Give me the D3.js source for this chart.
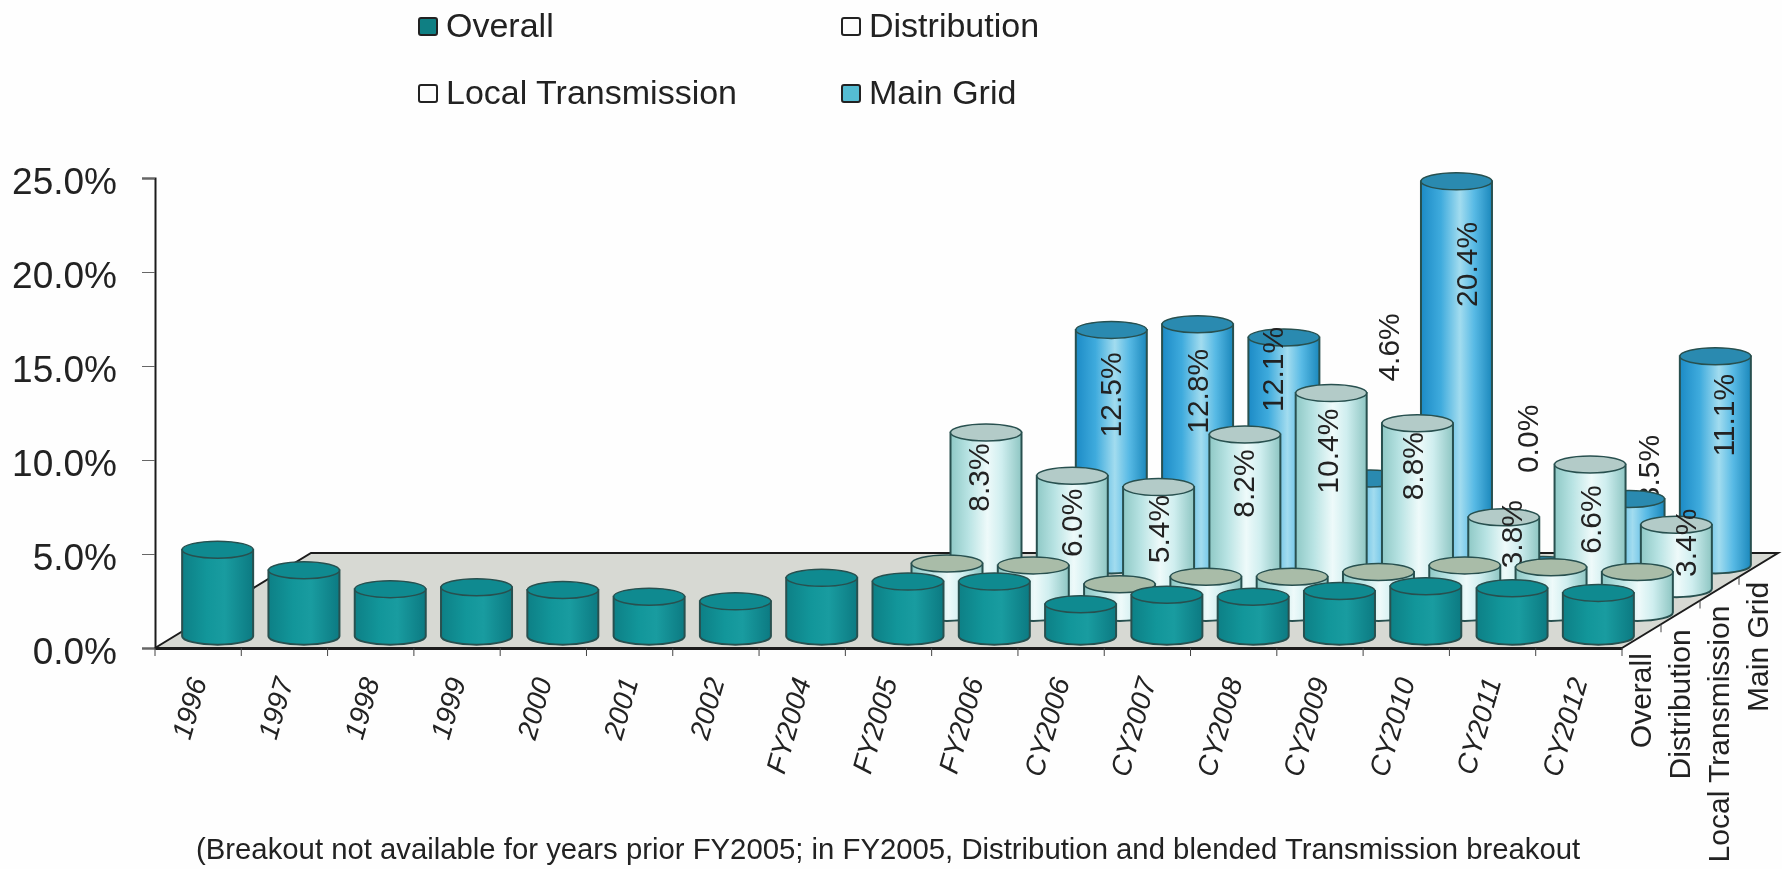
<!DOCTYPE html>
<html>
<head>
<meta charset="utf-8">
<script src="https://cdn.jsdelivr.net/npm/d3@7/dist/d3.min.js"></script>
<style>
  html, body { margin: 0; padding: 0; background: #fefefe; overflow: hidden; }
  svg { display: block; filter: blur(0.55px); }
  text { font-family: "Liberation Sans", Arial, sans-serif; fill: #222; }
</style>
</head>
<body>
<script>
var categories = ["1996", "1997", "1998", "1999", "2000", "2001", "2002", "FY2004", "FY2005",
                  "FY2006", "CY2006", "CY2007", "CY2008", "CY2009", "CY2010", "CY2011", "CY2012"];
var seriesNames = ["Overall", "Distribution", "Local Transmission", "Main Grid"];

var overall = [4.6, 3.5, 2.5, 2.6, 2.45, 2.1, 1.85, 3.1, 2.9, 2.9, 1.7, 2.2, 2.1, 2.4, 2.65, 2.55, 2.3];
var distribution = [null, null, null, null, null, null, null, null, 2.6, 2.5, 1.5, 1.9, 1.9, 2.15, 2.5, 2.4, 2.15];
var localTransmission = [null, null, null, null, null, null, null, null, 8.3, 6.0, 5.4, 8.2, 10.4, 8.8, 3.8, 6.6, 3.4];
var mainGrid = [null, null, null, null, null, null, null, null, null, 12.5, 12.8, 12.1, 4.6, 20.4, 0.0, 3.5, 11.1];
var yTicks = [0, 5, 10, 15, 20, 25];
var note = "(Breakout not available for years prior FY2005; in FY2005, Distribution and blended Transmission breakout";

// excel puts the 3d data labels wherever it likes, so these are nudges per category
var localNudge = {8: [-8, 45], 9: [-1, 47], 10: [0, 42], 11: [-1, 49], 12: [-4, 58], 13: [-5, 43], 14: [8, 17], 15: [0, 55], 16: [9, 18]};
var mainNudge = {9: [-1, 65], 10: [0, 67], 11: [-11, 32], 12: [18, -131], 13: [10, 83], 14: [-15, -126], 15: [19, -30], 16: [8, 59]};

var width = 1782, height = 869;

// chart box: front-left floor corner, floor depth
var x0 = 155, y0 = 648, plotW = 1467, depthX = 156, depthY = 95;
var rx = 35.5, ry = 8.5;

var xScale = d3.scaleBand().domain(categories).range([x0, x0 + plotW]);
var yScale = d3.scaleLinear().domain([0, 25]).range([y0, 178]);
var depthXScale = d3.scaleBand().domain(seriesNames).range([0, depthX]);
var depthYScale = d3.scaleBand().domain(seriesNames).range([0, depthY]);

var svg = d3.select("body").append("svg")
            .attr("width", width)
            .attr("height", height);
var defs = svg.append("defs");

function addGradient(id, stops) {
  var g = defs.append("linearGradient").attr("id", id);
  stops.forEach(function(s) {
    g.append("stop").attr("offset", s[0]).attr("stop-color", s[1]);
  });
}
addGradient("side-overall", [[0, "#0d8086"], [0.35, "#12969a"], [0.6, "#199ca0"], [1, "#0c7a82"]]);
addGradient("side-light", [[0, "#8fc9c6"], [0.25, "#b8e3e3"], [0.52, "#eefafa"], [0.72, "#cfeeef"], [1, "#8ec6c3"]]);
addGradient("side-main", [[0, "#1c8bc6"], [0.28, "#3fabdd"], [0.55, "#a2dcef"], [0.75, "#58bae5"], [1, "#1b88bc"]]);

var series = [
  {name: "Overall", values: overall, side: "url(#side-overall)", top: "#0f8a90", nudge: {}},
  {name: "Distribution", values: distribution, side: "url(#side-light)", top: "#a9bca8", nudge: {}},
  {name: "Local Transmission", values: localTransmission, side: "url(#side-light)", top: "#b3cbc8", nudge: localNudge},
  {name: "Main Grid", values: mainGrid, side: "url(#side-main)", top: "#2a8ab0", nudge: mainNudge}
];

// floor
var floor = [[x0, y0], [x0 + plotW, y0], [x0 + plotW + depthX, y0 - depthY], [x0 + depthX, y0 - depthY]];
svg.append("polygon")
   .attr("points", floor.join(" "))
   .style("fill", "#d7d9d3");
svg.append("path")
   .attr("d", d3.line()([floor[1], floor[2], floor[3], floor[0]]))
   .style("fill", "none")
   .style("stroke", "#1c1c1c")
   .style("stroke-width", 2);

// value axis
var yAxis = d3.axisLeft(yScale)
              .tickValues(yTicks)
              .tickSize(13)
              .tickFormat(function(d) { return d.toFixed(1) + "%"; });
var yg = svg.append("g")
            .attr("transform", "translate(" + x0 + ",0)")
            .call(yAxis);
yg.selectAll("text").style("font-size", "37px").attr("x", -38).attr("y", 4).style("font-family", null);
yg.select(".domain").style("stroke", "#1c1c1c").style("stroke-width", 2);
yg.selectAll("line").style("stroke", "#666");

// category axis
var xAxis = d3.axisBottom(xScale).tickSize(8).tickSizeOuter(0);
var xg = svg.append("g")
            .attr("transform", "translate(0," + y0 + ")")
            .call(xAxis);
xg.select(".domain").style("stroke", "#1c1c1c").style("stroke-width", 3);
xg.selectAll(".tick line")
  .attr("x1", -xScale.bandwidth() / 2)
  .attr("x2", -xScale.bandwidth() / 2)
  .style("stroke", "#444");
xg.selectAll("text")
  .style("font-size", "28px")
  .style("font-style", "italic")
  .style("font-family", null)
  .attr("text-anchor", "end")
  .attr("dy", null)
  .attr("y", 0)
  .attr("transform", "translate(9,33) rotate(-74)");

// depth axis along the right edge of the floor
var depthAxis = svg.append("g");
depthAxis.selectAll("line")
         .data(seriesNames)
         .enter()
         .append("line")
         .attr("x1", function(d) { return x0 + plotW + depthXScale(d); })
         .attr("x2", function(d) { return x0 + plotW + depthXScale(d); })
         .attr("y1", function(d) { return y0 - depthYScale(d); })
         .attr("y2", function(d) { return y0 - depthYScale(d) + 8; })
         .style("stroke", "#444");
depthAxis.selectAll("text")
         .data(seriesNames)
         .enter()
         .append("text")
         .attr("text-anchor", "end")
         .attr("transform", function(d) {
           var px = x0 + plotW + depthXScale(d) + depthXScale.bandwidth() / 2 + 9.5,
               py = y0 - depthYScale(d) - depthYScale.bandwidth() / 2 + 17;
           return "translate(" + px + "," + py + ") rotate(-90)";
         })
         .style("font-size", "30px")
         .text(function(d) { return d; });

function cylX(cat, name) {
  return xScale(cat) + xScale.bandwidth() / 2 + depthXScale(name) + depthXScale.bandwidth() / 2;
}
function cylBase(name) {
  return -(depthYScale(name) + depthYScale.bandwidth() / 2);
}

function addLabels(group, s, cats) {
  group.selectAll("text")
       .data(cats)
       .enter()
       .append("text")
       .attr("text-anchor", "middle")
       .attr("transform", function(i) {
         var v = s.values[i], n = s.nudge[i],
             px = cylX(categories[i], s.name) + n[0],
             py = yScale(v) + cylBase(s.name) + n[1];
         return "translate(" + (px + 10.5) + "," + py + ") rotate(-90)";
       })
       .style("font-size", "30px")
       .text(function(i) { return s.values[i].toFixed(1) + "%"; });
}

// back row first, so the front rows cover it
series.slice().reverse().forEach(function(s) {
  var idx = d3.range(categories.length).filter(function(i) { return s.values[i] !== null; });
  var row = svg.append("g").attr("class", "row");
  var labelled = idx.filter(function(i) { return s.nudge[i]; });

  // labels floating above their cylinder sit behind it
  addLabels(row.append("g"), s, labelled.filter(function(i) { return s.nudge[i][1] < 0; }));

  var cyl = row.selectAll("g.cyl")
               .data(idx)
               .enter()
               .append("g")
               .attr("class", "cyl")
               .attr("transform", function(i) {
                 return "translate(" + cylX(categories[i], s.name) + "," + cylBase(s.name) + ")";
               });
  cyl.append("path")
     .attr("d", function(i) {
       var t = yScale(s.values[i]);
       return "M" + (-rx) + "," + t + "L" + (-rx) + "," + y0 +
              "A" + rx + "," + ry + " 0 0 0 " + rx + "," + y0 +
              "L" + rx + "," + t + "Z";
     })
     .style("fill", s.side)
     .style("stroke", "#28504f")
     .style("stroke-width", 2);
  cyl.append("ellipse")
     .attr("cx", 0)
     .attr("cy", function(i) { return yScale(s.values[i]); })
     .attr("rx", rx)
     .attr("ry", ry)
     .style("fill", s.top)
     .style("stroke", "#28504f")
     .style("stroke-width", 1.5);

  addLabels(row.append("g"), s, labelled.filter(function(i) { return s.nudge[i][1] >= 0; }));
});

// legend
var legendPos = d3.scalePoint().domain([0, 1]).range([419, 842]);
var legendRow = d3.scalePoint().domain([0, 1]).range([18, 85]);
var legendOrder = [[0, 0, 0, "#0f7f83"], [1, 1, 0, "#fdfdfd"], [2, 0, 1, "#fdfdfd"], [3, 1, 1, "#55bcd2"]];
var legend = svg.selectAll("g.legend")
                .data(legendOrder)
                .enter()
                .append("g")
                .attr("class", "legend")
                .attr("transform", function(d) {
                  return "translate(" + legendPos(d[1]) + "," + legendRow(d[2]) + ")";
                });
legend.append("rect")
      .attr("width", 18)
      .attr("height", 17)
      .attr("rx", 2)
      .style("fill", function(d) { return d[3]; })
      .style("stroke", "#222")
      .style("stroke-width", 2);
legend.append("text")
      .attr("x", 27)
      .attr("y", 19)
      .style("font-size", "34px")
      .text(function(d) { return seriesNames[d[0]]; });

svg.append("text")
   .attr("x", 196)
   .attr("y", 859)
   .style("font-size", "29.3px")
   .text(note);
</script>
</body>
</html>
